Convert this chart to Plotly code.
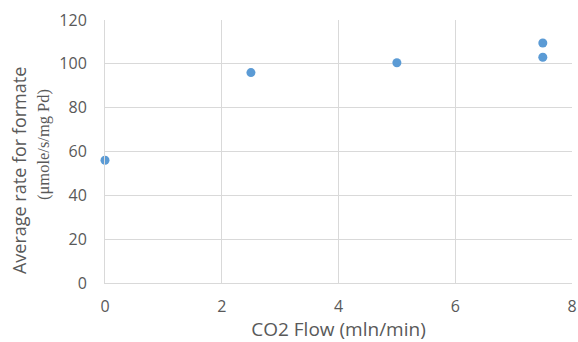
import plotly.graph_objects as go

flow = [0, 2.5, 5, 7.5, 7.5]
rate = [56, 96, 100.5, 109.5, 103]
x_ticks = [0, 2, 4, 6, 8]
y_ticks = [0, 20, 40, 60, 80, 100, 120]
y_title_1 = "Average rate for formate"
y_title_2 = "(μmole/s/mg Pd)"
x_title = "CO2 Flow (mln/min)"

fig = go.Figure()
fig.add_trace(go.Scatter(x=flow, y=rate, mode="markers",
                         marker=dict(color="#5B9BD5", size=9), cliponaxis=False,
                         showlegend=False))

fig.update_layout(
    width=578, height=342,
    margin=dict(l=105, r=6, t=20, b=59, autoexpand=False),
    plot_bgcolor="white", paper_bgcolor="white",
    font=dict(family="Open Sans, sans-serif", color="#595959"),
)
fig.update_xaxes(range=[0, 8], tickvals=x_ticks, showgrid=True, gridcolor="#D9D9D9",
                 gridwidth=1, zeroline=False, showline=True, linecolor="#D9D9D9",
                 ticks="", ticklabelstandoff=9, ticklabeloverflow="allow",
                 tickfont=dict(size=16, color="#595959"),
                 title=dict(text=x_title, font=dict(size=19, color="#595959"), standoff=9))
fig.update_yaxes(range=[0, 120], tickvals=y_ticks, showgrid=True, gridcolor="#D9D9D9",
                 gridwidth=1, zeroline=False, showline=True, linecolor="#D9D9D9",
                 ticks="", ticklabelstandoff=14, tickfont=dict(size=16, color="#595959"))

fig.add_annotation(text=y_title_1, xref="paper", yref="paper", x=-0.184, y=0.426,
                   xanchor="center", yanchor="middle", textangle=-90, showarrow=False,
                   font=dict(size=18, color="#595959"))
fig.add_annotation(text=y_title_2, xref="paper", yref="paper", x=-0.133, y=0.528,
                   xanchor="center", yanchor="middle", textangle=-90, showarrow=False,
                   font=dict(size=16.5, color="#595959", family="Liberation Serif, serif"))

fig.write_html("out.html", config={"displayModeBar": False},
               post_script="document.body.style.margin='0';document.body.style.overflow='hidden';")
